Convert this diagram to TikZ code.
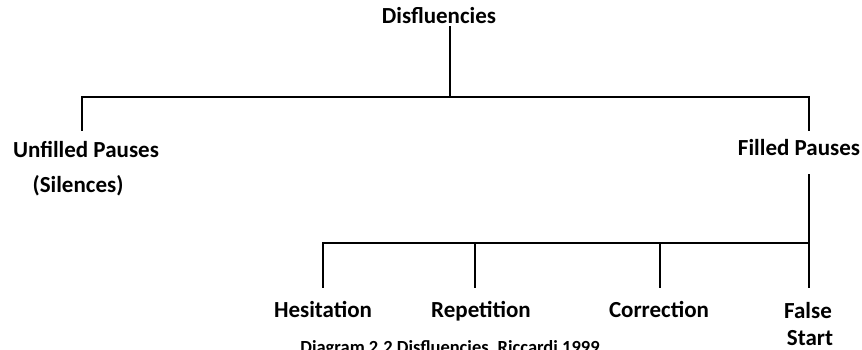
\documentclass[tikz,border=0pt]{standalone}
\usepackage{fontspec}
\setmainfont{Carlito}
\begin{document}
\begin{tikzpicture}[x=1pt,y=1pt,
  lbl/.style={font=\fontsize{23}{27}\selectfont\bfseries, inner sep=0pt, anchor=base},
  captxt/.style={font=\fontsize{18.5}{22}\selectfont\bfseries, inner sep=0pt, anchor=base},
  conn/.style={line width=1.6pt, line cap=rect}]
\useasboundingbox (0,0) rectangle (862,-349);
% labels
\node[lbl] (dis) at (439,-23) {Disfluencies};
\node[lbl] (unf) at (86,-157) {Unfilled Pauses};
\node[lbl] (sil) at (78,-192) {(Silences)};
\node[lbl] (fil) at (799,-155) {Filled Pauses};
\node[lbl] (hes) at (323,-317) {Hesitation};
\node[lbl] (rep) at (481,-317) {Repetition};
\node[lbl] (cor) at (659,-317) {Correction};
\node[lbl] (fal) at (808,-318) {False};
\node[lbl] (sta) at (810,-345) {Start};
\node[captxt] (capt) at (450,-353.5) {Diagram 2.2 Disfluencies, Riccardi 1999};
% junctions
\coordinate (t0) at (450,-27);
\coordinate (j0) at (450,-97);
\coordinate (jl) at (82,-97);
\coordinate (jr) at (809,-97);
\coordinate (ul) at (82,-130);
\coordinate (fr) at (809,-130);
\coordinate (f0) at (809,-175);
\coordinate (b4) at (809,-243);
\coordinate (b1) at (323,-243);
\coordinate (b2) at (475,-243);
\coordinate (b3) at (660,-243);
\coordinate (e1) at (323,-287);
\coordinate (e2) at (475,-287);
\coordinate (e3) at (660,-287);
\coordinate (e4) at (809,-287);
% connectors
\draw[conn] (t0) -- (j0);
\draw[conn] (ul) -- (jl) -- (jr) -- (fr);
\draw[conn] (f0) -- (b4);
\draw[conn] (e1) -- (b1) -- (b4) -- (e4);
\draw[conn] (b2) -- (e2);
\draw[conn] (b3) -- (e3);
\end{tikzpicture}
\end{document}
